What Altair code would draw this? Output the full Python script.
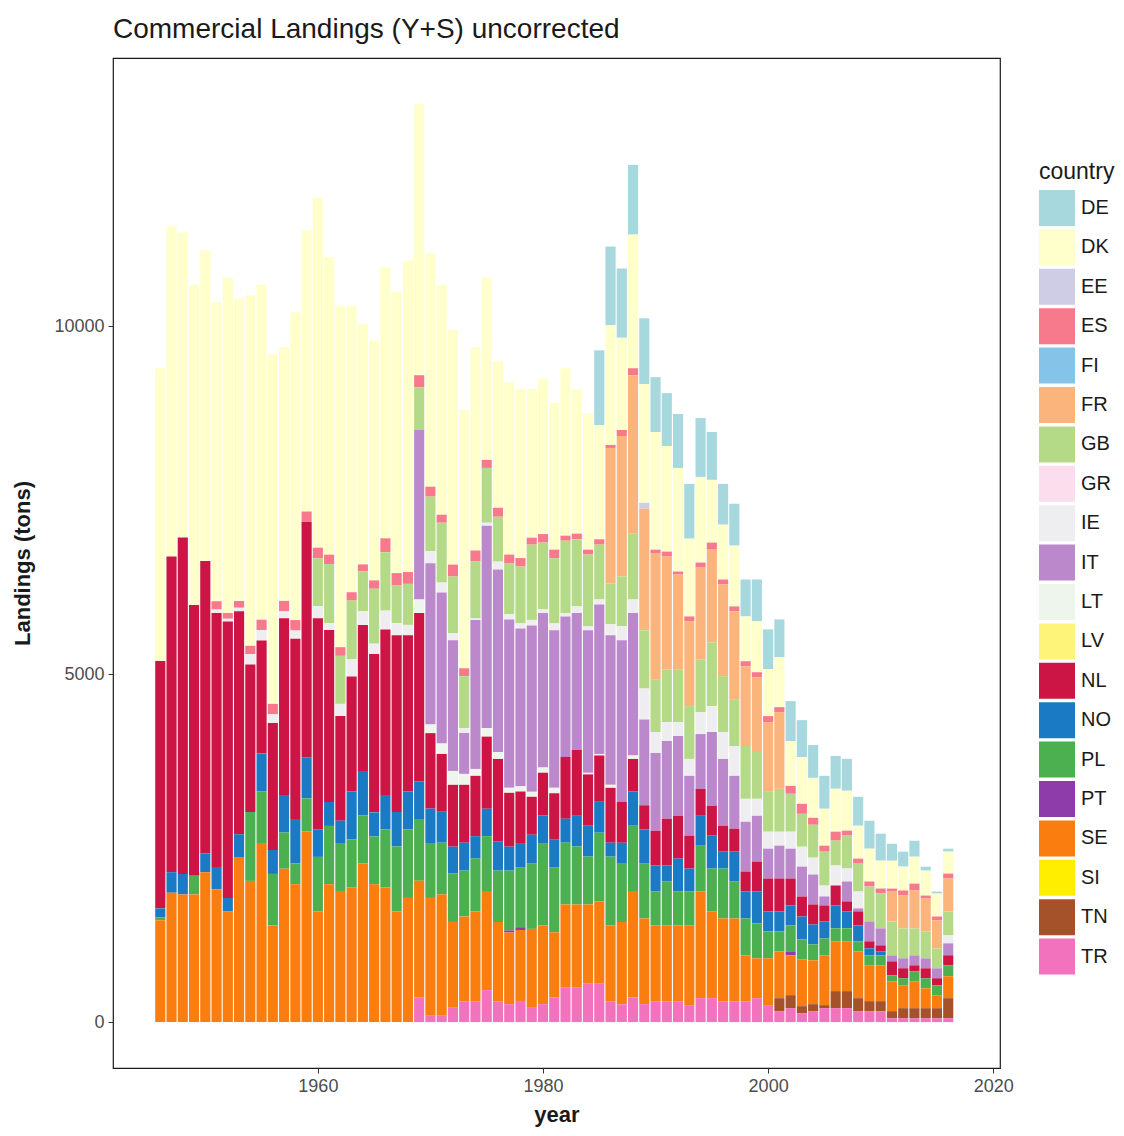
import altair as alt
import pandas as pd

years = list(range(1946, 2017))
countries = ["DE", "DK", "EE", "ES", "FI", "FR", "GB", "GR", "IE", "IT",
             "LT", "LV", "NL", "NO", "PL", "PT", "SE", "SI", "TN", "TR"]
colors = ["#A6D8DE", "#FFFFCC", "#CFCDE6", "#F77A8C", "#86C3E8", "#FBB47C",
          "#B5DA87", "#FBDDEE", "#EEEEF0", "#BB88CB", "#EEF5EC", "#FFF47A",
          "#CC1445", "#1A7AC4", "#4CAF50", "#8E3CAA", "#FA7D0F", "#FFEE00",
          "#A5522A", "#F272BE"]

# landings (tons) per country, years 1946..2016
DE = [0] * 39 + [1074,
      1132, 995, 1003, 946, 789, 759, 774, 788, 846, 688,
      587, 602, 531, 602, 573, 544, 573, 530, 472, 473,
      473, 458, 416, 402, 387, 244, 215, 229, 57, 28,
      43]
DK = [4210, 4755, 4385, 4605, 4470, 4300, 4820, 4345, 5040, 4815,
      5025, 3645, 4420, 4040, 5030, 4280, 4910, 4120, 3460, 3450,
      3895, 4045, 4480, 3900, 3355, 3306, 3373, 3713, 2922, 2618,
      2106, 2479, 2429, 2136, 2234, 2108, 2407, 2078, 1958, 1643,
      1720, 1326, 1921, 1705, 1691, 1519, 1490, 1118, 1232, 902,
      788, 874, 644, 731, 674, 717, 645, 673, 574, 531,
      616, 574, 473, 472, 401, 401, 343, 387, 358, 330,
      315]
EE = [0] * 43 + [86] + [0] * 27
ES = [0, 0, 0, 0, 0, 120, 80, 100, 120, 150,
      150, 150, 150, 150, 150, 135, 125, 120, 100, 120,
      200, 180, 170, 172, 143, 115, 172, 114, 158, 115,
      129, 129, 122, 100, 123, 121, 72, 81, 71, 77,
      43, 86, 100, 0, 57, 72, 43, 71, 72, 101,
      72, 72, 72, 72, 86, 71, 114, 144, 100, 86,
      129, 71, 72, 72, 71, 43, 72, 100, 43, 57,
      71]
FI = [0] * 71
FR = [0] * 40 + [1949, 2021, 2278, 1748, 1805, 1619, 1361, 1218, 1318, 1332,
                 1318, 1261, 1147, 1075, 1003, 1104, 0, 0, 0, 0,
                 0, 0, 0, 0, 0, 430, 473, 545, 473, 402,
                 473]
GB = [0] * 14 + [690, 850, 690, 840, 570, 790,
                 840, 540, 590, 616, 784, 860, 816, 746, 820, 788,
                 645, 731, 817, 1082, 960, 939, 1040, 965, 1032, 788,
                 587, 716, 946, 837, 760, 760, 760, 760, 759, 917,
                 803, 674, 759, 673, 573, 616, 545, 473, 473, 487,
                 358, 473, 401, 502, 502, 487, 430, 387, 387, 286,
                 344]
GR = [0] * 71
IE = [0, 0, 0, 0, 0, 50, 40, 50, 150, 150,
      125, 100, 120, 0, 175, 100, 175, 250, 200, 150,
      270, 175, 150, 0, 172, 143, 101, 71, 20, 43,
      114, 72, 72, 79, 52, 100, 49, 95, 57, 72,
      158, 201, 195, 444, 301, 272, 200, 243, 316, 373,
      387, 429, 330, 244, 244, 201, 244, 286, 243, 157,
      287, 187, 243, 0, 0, 0, 0, 0, 0, 0,
      115]
IT = [0] * 23 + [2436, 2319, 2171, 1877, 588, 2142, 2909,
                 2623, 2421, 2271, 2393, 2221, 2264, 2020, 1969, 2049, 2149,
                 2149, 2321, 2048, 1234, 1118, 1118, 1147, 860, 788, 1060,
                 960, 760, 716, 659, 429, 472, 429, 430, 430, 129,
                 0, 286, 43, 286, 244, 86, 143, 143, 143, 143,
                 172]
LT = [0] * 23 + [195, 125, 150, 200, 157, 100, 123,
                 100, 72, 74, 71, 75, 78, 0, 0, 22, 22,
                 43, 0, 50] + [0] * 28
LV = [0] * 71
NL = [3555, 4540, 4835, 3890, 4205, 3650, 3975, 3205, 2120, 1625,
      1825, 2540, 2590, 3385, 3035, 2470, 1505, 1655, 2100, 2275,
      2380, 2540, 2245, 2419, 1085, 831, 889, 832, 867, 1037,
      1183, 774, 741, 545, 616, 668, 889, 946, 738, 666,
      789, 588, 468, 346, 501, 673, 616, 473, 387, 430,
      373, 330, 287, 430, 473, 473, 387, 287, 287, 230,
      286, 143, 201, 101, 86, 201, 143, 86, 143, 101,
      143]
NO = [130, 295, 295, 0, 270, 320, 195, 325, 0, 545,
      345, 540, 640, 590, 395, 345, 320, 690, 640, 345,
      495, 495, 545, 542, 494, 445, 387, 401, 323, 394,
      422, 344, 346, 416, 395, 394, 344, 441, 444, 444,
      200, 301, 492, 493, 373, 230, 473, 330, 430, 473,
      243, 430, 387, 458, 287, 287, 287, 329, 287, 243,
      330, 244, 229, 100, 57, 0, 0, 0, 0, 0,
      0]
PL = [40, 0, 0, 270, 0, 0, 0, 0, 990, 740,
      740, 520, 300, 470, 785, 840, 690, 690, 690, 690,
      835, 935, 985, 888, 790, 745, 695, 659, 760, 790,
      739, 860, 864, 938, 1184, 937, 888, 834, 688, 989,
      989, 838, 940, 788, 487, 630, 487, 487, 659, 617,
      717, 530, 530, 502, 387, 287, 373, 287, 229, 244,
      186, 186, 144, 143, 143, 85, 101, 143, 144, 143,
      158]
PT = [0] * 31 + [30, 40] + [0] * 23 + [57] + [0] * 14
SE = [1465, 1860, 1835, 1835, 2155, 1910, 1590, 2375, 2030, 2575,
      1390, 2205, 1980, 2745, 1590, 1980, 1885, 1935, 2280, 1980,
      1935, 1590, 1785, 1678, 1685, 1734, 1235, 1219, 1290, 1424,
      1139, 1030, 1020, 1135, 1132, 937, 1189, 1189, 1139, 1182,
      1090, 1182, 1529, 1232, 1090, 1090, 1090, 1146, 1533, 1246,
      1190, 1190, 660, 573, 673, 673, 573, 673, 630, 716,
      717, 717, 673, 516, 516, 430, 330, 387, 286, 186,
      315]
SI = [0] * 71
TN = [0] * 55 + [186, 186, 100, 100, 43,
                 244, 244, 186, 143, 143, 100, 143, 143, 143, 143,
                 287]
TR = [0] * 23 + [354, 100, 100, 205, 300, 300, 459,
                 300, 258, 304, 205, 258, 354, 502, 502, 552, 552,
                 300, 258, 354, 258, 300, 300, 300, 244, 344, 344,
                 300, 300, 300, 344, 244, 158, 201, 129, 158, 201,
                 201, 201, 158, 158, 158, 57, 57, 57, 57, 57,
                 57]

series = {"DE": DE, "DK": DK, "EE": EE, "ES": ES, "FI": FI, "FR": FR,
          "GB": GB, "GR": GR, "IE": IE, "IT": IT, "LT": LT, "LV": LV,
          "NL": NL, "NO": NO, "PL": PL, "PT": PT, "SE": SE, "SI": SI,
          "TN": TN, "TR": TR}

rows = []
n = len(countries)
for i, c in enumerate(countries):
    vals = series[c]
    assert len(vals) == len(years), (c, len(vals))
    for yr, v in zip(years, vals):
        if v > 0:
            rows.append({"year": yr, "country": c, "tons": v, "rank": n - 1 - i})
df = pd.DataFrame(rows)

FONT = "Liberation Sans"

chart = (
    alt.Chart(df)
    .transform_stack(stack="tons", groupby=["year"], as_=["y0", "y1"],
                     sort=[alt.SortField("rank", order="ascending")])
    .transform_calculate(xa="datum.year - 0.45", xb="datum.year + 0.45")
    .mark_bar(strokeWidth=0)
    .encode(
        x=alt.X("xa:Q",
                scale=alt.Scale(domain=[1941.8, 2020.6], nice=False, zero=False),
                axis=alt.Axis(values=[1960, 1980, 2000, 2020], format="d",
                              title="year", titlePadding=9)),
        x2="xb:Q",
        y=alt.Y("y0:Q",
                scale=alt.Scale(domain=[-660, 13860], nice=False, zero=False),
                axis=alt.Axis(values=[0, 5000, 10000], format="d",
                              title="Landings (tons)", titlePadding=19)),
        y2="y1:Q",
        color=alt.Color(
            "country:N",
            scale=alt.Scale(domain=countries, range=colors),
            legend=alt.Legend(
                title="country", orient="none", legendX=926, legendY=103,
                symbolType="square", symbolSize=1296, symbolStrokeWidth=0,
                symbolOpacity=1, labelFontSize=20, titleFontSize=23,
                titleFontWeight="normal", rowPadding=3.4, labelOffset=6,
                titlePadding=6, labelFont=FONT, titleFont=FONT,
                labelColor="#1a1a1a", titleColor="#1a1a1a"),
        ),
        tooltip=["year:O", "country:N", "tons:Q"],
    )
    .properties(
        width=887, height=1010,
        title=alt.TitleParams("Commercial Landings (Y+S) uncorrected",
                              anchor="start", frame="group", fontSize=28,
                              font=FONT, fontWeight="normal", color="#1a1a1a",
                              offset=14),
        autosize=alt.AutoSizeParams(type="none"),
        padding={"left": 105, "top": 50, "right": 116, "bottom": 60},
    )
    .configure_view(stroke="#1a1a1a", strokeWidth=1.2)
    .configure_axis(grid=False, domain=False, tickColor="#333333", tickSize=5,
                    labelColor="#4d4d4d", labelFontSize=18, labelFont=FONT,
                    labelPadding=4, titleFont=FONT, titleFontSize=22,
                    titleFontWeight="bold", titleColor="#1a1a1a")
)

chart.save("out.html", embed_options={"renderer": "svg", "actions": False})
